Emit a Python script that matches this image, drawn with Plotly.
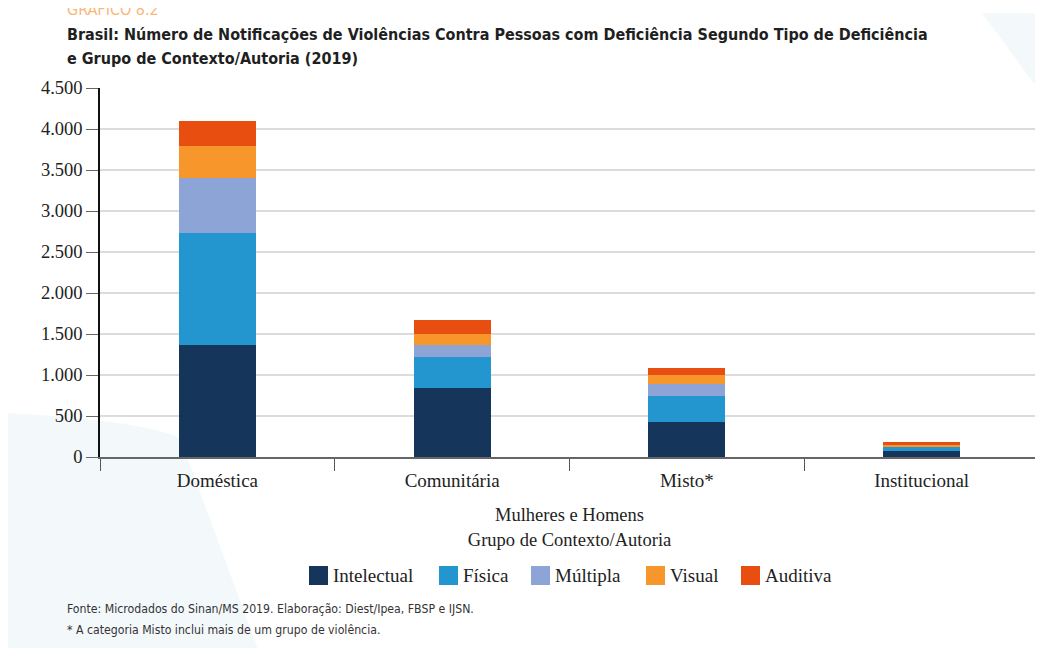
import plotly.graph_objects as go

categorias = ["Doméstica", "Comunitária", "Misto*", "Institucional"]
intelectual = [1366, 845, 430, 70]
fisica = [1369, 375, 318, 55]
multipla = [664, 142, 146, 5]
visual = [394, 142, 106, 16]
auditiva = [301, 163, 81, 37]

nomes = ["Intelectual", "Física", "Múltipla", "Visual", "Auditiva"]
valores = [intelectual, fisica, multipla, visual, auditiva]
cores = ["#15355b", "#2396d0", "#8da4d6", "#f7962a", "#e84e0f"]

serif = "Liberation Serif, Times New Roman, serif"
cond = "DejaVu Sans Condensed, Liberation Sans Narrow, Open Sans, sans-serif"

# page offset (body margin) -> work in page pixel coordinates
OFF = 8
PW, PH = 1043, 648
L, R, T, B = 100, 1039, 88, 457  # plot area in page pixels


def px(x):
    return (x - L) / (R - L)


def py(y):
    return (B - y) / (B - T)


fig = go.Figure()
for nome, vals, cor in zip(nomes, valores, cores):
    fig.add_trace(go.Bar(name=nome, x=categorias, y=vals, marker_color=cor,
                         marker_line_width=0, showlegend=False))

fig.update_layout(
    width=PW - OFF, height=PH - OFF,
    barmode="stack",
    bargap=0.672,
    separators=",.",
    paper_bgcolor="white",
    plot_bgcolor="rgba(0,0,0,0)",
    margin=dict(l=L - OFF, r=PW - R, t=T - OFF, b=PH - B, pad=0),
    showlegend=False,
    xaxis=dict(
        tickfont=dict(family=serif, size=19, color="#222"),
        ticklabelstandoff=5,
        showgrid=False,
        showline=True, linecolor="#666", linewidth=1.5,
        ticks="outside", tickson="boundaries", ticklen=12, tickcolor="#555",
        title=dict(
            text="Mulheres e Homens<br>Grupo de Contexto/Autoria",
            font=dict(family=serif, size=18.5, color="#222"),
            standoff=19,
        ),
    ),
    yaxis=dict(
        range=[0, 4500],
        dtick=500,
        tickformat=",d",
        tickfont=dict(family=serif, size=18.5, color="#222"),
        showgrid=True, gridcolor="#dcdcdc", gridwidth=1.5,
        showline=True, linecolor="#111", linewidth=1.5,
        ticks="outside", ticklen=12, tickcolor="#666",
        zeroline=False,
    ),
)

shapes = [
    dict(type="path", xref="paper", yref="paper", layer="below",
         path=f"M {px(-5)},{py(660)} L {px(-5)},{py(413)} L {px(7)},{py(413)} "
              f"C {px(90)},{py(418)} {px(150)},{py(425)} {px(180)},{py(438)} "
              f"L {px(262)},{py(660)} Z",
         fillcolor="#f3f8fb", line_width=0),
    dict(type="path", xref="paper", yref="paper", layer="below",
         path=f"M {px(982)},{py(13)} L {px(1050)},{py(13)} L {px(1050)},{py(105)} Z",
         fillcolor="#f3f8fb", line_width=0),
    dict(type="line", xref="paper", yref="paper", x0=1, x1=1, y0=0, y1=1,
         line=dict(color="#dcdcdc", width=1.5), layer="below"),
]

annotations = [
    dict(text="GRÁFICO 8.2", xref="paper", yref="paper", x=px(65), y=py(21),
         xanchor="left", yanchor="bottom", showarrow=False,
         font=dict(family=cond, size=16, color="#f9b77a")),
    dict(text="<b>Brasil: Número de Notificações de Violências Contra Pessoas com Deficiência Segundo Tipo de Deficiência</b>",
         xref="paper", yref="paper", x=px(65), y=py(34), xanchor="left", yanchor="middle",
         showarrow=False, font=dict(family=cond, size=16, color="#1f1f1f")),
    dict(text="<b>e Grupo de Contexto/Autoria (2019)</b>",
         xref="paper", yref="paper", x=px(65), y=py(58), xanchor="left", yanchor="middle",
         showarrow=False, font=dict(family=cond, size=16, color="#1f1f1f")),
    dict(text="Fonte: Microdados do Sinan/MS 2019. Elaboração: Diest/Ipea, FBSP e IJSN.",
         xref="paper", yref="paper", x=px(65), y=py(609), xanchor="left", yanchor="middle",
         showarrow=False, font=dict(family=cond, size=12.2, color="#333")),
    dict(text="* A categoria Misto inclui mais de um grupo de violência.",
         xref="paper", yref="paper", x=px(65), y=py(630), xanchor="left", yanchor="middle",
         showarrow=False, font=dict(family=cond, size=12.2, color="#333")),
]

# manual legend (large square swatches like the reference)
leg_x = [309, 439, 531, 646, 741]
leg_y = 575
for nome, cor, x0 in zip(nomes, cores, leg_x):
    shapes.append(dict(type="rect", xref="paper", yref="paper",
                       x0=px(x0), x1=px(x0 + 19), y0=py(leg_y + 10), y1=py(leg_y - 9),
                       fillcolor=cor, line_width=0))
    annotations.append(dict(text=nome, xref="paper", yref="paper",
                            x=px(x0 + 22), y=py(leg_y), xanchor="left", yanchor="middle",
                            showarrow=False,
                            font=dict(family=serif, size=19, color="#222")))

fig.update_layout(shapes=shapes, annotations=annotations)

fig.write_html("out.html")
